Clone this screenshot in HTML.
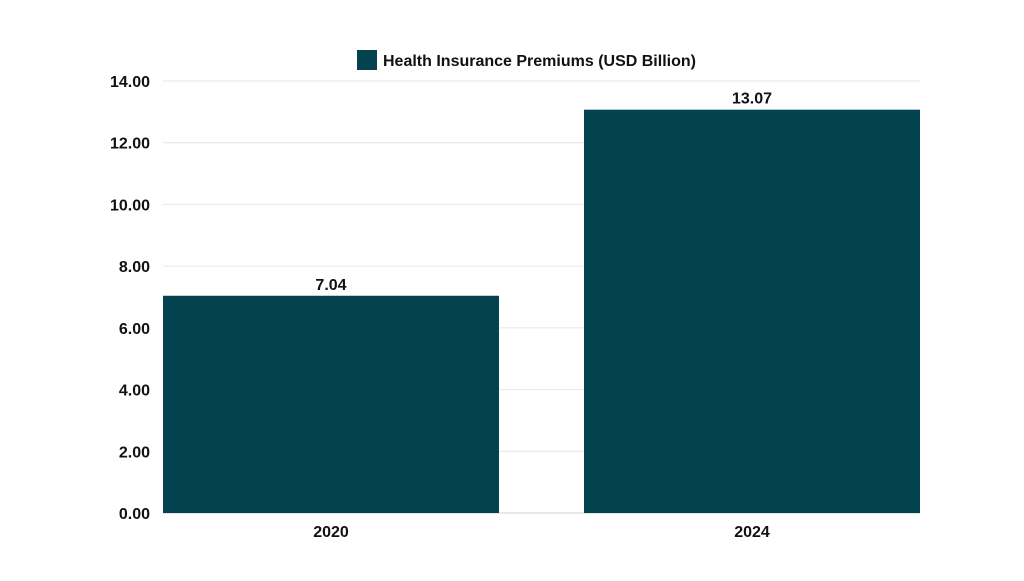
<!DOCTYPE html>
<html><head><meta charset="utf-8"><style>
body{margin:0;background:#fff;}
svg text{font-family:"Liberation Sans",sans-serif;font-weight:bold;fill:#111;}
</style></head><body>
<svg width="1024" height="576">
<g id="grid"></g><g id="bars"></g><g id="labels"></g>
<g>
<rect x="357" y="50" width="20" height="20" fill="#02434f"/>
<text x="383" y="66" font-size="16">Health Insurance Premiums (USD Billion)</text>
</g>
</svg>
<script>
const categories=["2020","2024"];
const values=[7.04,13.07];
const valueLabels=["7.04","13.07"];
const ticks=[0,2,4,6,8,10,12,14];
const tickLabels=["0.00","2.00","4.00","6.00","8.00","10.00","12.00","14.00"];
const L=163,R=920,T=81,B=513,yMax=14,barW=336;
const y=v=>B-(v/yMax)*(B-T);
const x=i=>L+i*(R-L-barW)/(categories.length-1);
const ns="http://www.w3.org/2000/svg";
function mk(t,a,p){const e=document.createElementNS(ns,t);for(const k in a)e.setAttribute(k,a[k]);p.appendChild(e);return e;}
const g=document.getElementById('grid'),b=document.getElementById('bars'),l=document.getElementById('labels');
ticks.forEach((t,i)=>{
 const ln=mk('line',{x1:L,x2:R,y1:y(t),y2:y(t),stroke:i==0?'#cfcfcf':'#e6e6e6','stroke-width':1},g);
 
 
 const tx=mk('text',{x:150,y:y(t)+6,'font-size':16,'text-anchor':'end'},g);
 tx.textContent=tickLabels[i];
 
 
});
categories.forEach((c,i)=>{
 const r=mk('rect',{x:x(i),y:y(values[i]),width:barW,height:B-y(values[i]),fill:'#02434f'},b);
 
 
 const v=mk('text',{x:x(i)+barW/2,y:y(values[i])-6,'font-size':16,'text-anchor':'middle'},l);
 v.textContent=valueLabels[i];
 
 
 const ct=mk('text',{x:x(i)+barW/2,y:B+24,'font-size':16,'text-anchor':'middle'},l);
 ct.textContent=c;
 
 
});
</script>
</body></html>
